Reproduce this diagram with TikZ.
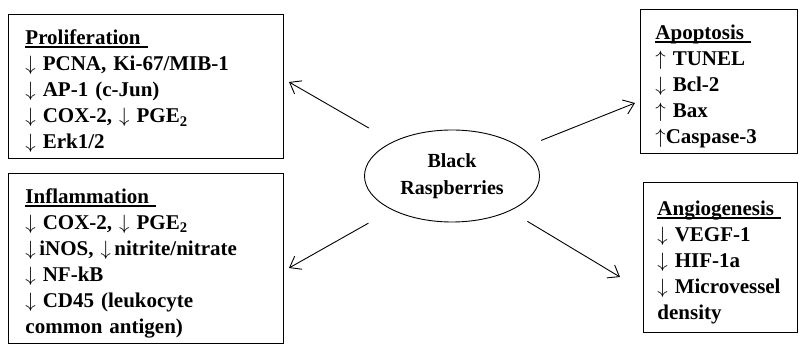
\documentclass[tikz,border=0pt]{standalone}
\usepackage{fontspec}
\setmainfont{Liberation Serif}
\usetikzlibrary{shapes.geometric,arrows.meta}
\newcommand{\hd}[1]{\rule{0pt}{25pt}\setbox0\hbox{#1\ }\rlap{\rule[-3.5pt]{\wd0}{2pt}}#1}
\newcommand{\arrdn}{$\downarrow$}
\newcommand{\arrup}{$\uparrow$}

\begin{document}
\begin{tikzpicture}[
  x=1pt, y=-1pt,
  box/.style={draw, line width=0.9pt, anchor=north west, align=left, inner xsep=17pt,
    font=\fontsize{21}{26}\selectfont\bfseries},
  arrow/.style={-{Straight Barb[length=10pt,width=15pt]}, line width=0.9pt}
]
\useasboundingbox (0,0) rectangle (800,344);

\node[box, text width=241pt, minimum height=144pt] (prol) at (8,14)
  {\hd{Proliferation}\\
   \arrdn{} PCNA, Ki-67/MIB-1\\
   \arrdn{} AP-1 (c-Jun)\\
   \arrdn{} COX-2, \arrdn{} PGE\textsubscript{2}\\
   \arrdn{} Erk1/2};
\node[box, text width=241pt, minimum height=170pt] (infl) at (8,173)
  {\hd{Inflammation}\\
   \arrdn{} COX-2, \arrdn{} PGE\textsubscript{2}\\
   \arrdn\,iNOS, \arrdn\,nitrite/nitrate\\
   \arrdn{} NF-kB\\
   \arrdn{} CD45 (leukocyte\\
   common antigen)};
\node[box, inner xsep=15pt, text width=127pt, minimum height=144pt] (apop) at (640,9)
  {\hd{Apoptosis}\\
   \arrup{} TUNEL\\
   \arrdn{} Bcl-2\\
   \arrup{} Bax\\
   \arrup{}Caspase-3};
\node[box, inner xsep=14pt, text width=126pt, minimum height=150pt] (angio) at (643,182)
  {\hd{Angiogenesis}\\
   \arrdn{} VEGF-1\\
   \arrdn{} HIF-1a\\
   \arrdn{} \mbox{Microvessel}\\
   density};

\node[ellipse, draw, line width=0.9pt, minimum width=175pt, minimum height=92pt,
  align=center, font=\fontsize{20}{27}\selectfont\bfseries] (bb) at (452,176)
  {Black\\Raspberries};

% free arrow ends
\coordinate (tipP) at (289,82);
\coordinate (tipI) at (289,268);
\coordinate (tipA) at (635,103);
\coordinate (tipG) at (620,277);

\draw[arrow, shorten <=96pt] (bb.center) -- (tipP);
\draw[arrow, shorten <=96pt] (bb.center) -- (tipI);
\draw[arrow, shorten <=96pt] (bb.center) -- (tipA);
\draw[arrow, shorten <=88pt] (bb.center) -- (tipG);
\end{tikzpicture}
\end{document}
